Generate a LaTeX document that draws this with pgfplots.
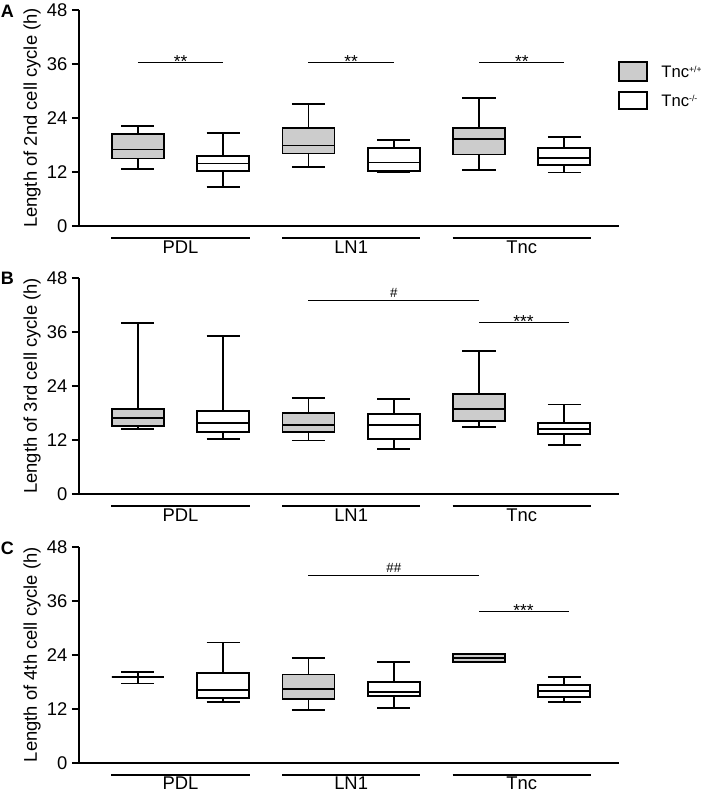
\documentclass[border=0pt]{standalone}
\usepackage{fontspec}
\setmainfont{Liberation Sans}
\usepackage{pgfplots}
\pgfplotsset{compat=1.18}
\usepgfplotslibrary{statistics}

\definecolor{boxgray}{gray}{0.80}

% one box: position, lower whisker, q1, median, q3, upper whisker, style
\newcommand{\cellbox}[7]{%
  \addplot[#7, boxplot prepared={draw position=#1, lower whisker=#2,
    lower quartile=#3, median=#4, upper quartile=#5, upper whisker=#6}]
    coordinates {};}

\newcommand{\lblfont}{\fontsize{13.8}{15}\selectfont}
\newcommand{\groupbars}{%
  \draw[line width=1.5pt] (axis cs:0.69,-2.67) -- (axis cs:2.31,-2.67);
  \draw[line width=1.5pt] (axis cs:2.69,-2.67) -- (axis cs:4.31,-2.67);
  \draw[line width=1.5pt] (axis cs:4.69,-2.67) -- (axis cs:6.31,-2.67);
  \node[font=\lblfont, anchor=base, inner sep=0pt] at (axis cs:1.5,-6.0) {PDL};
  \node[font=\lblfont, anchor=base, inner sep=0pt] at (axis cs:3.5,-6.0) {LN1};
  \node[font=\lblfont, anchor=base, inner sep=0pt] at (axis cs:5.5,-6.0) {Tnc};}

\tikzset{
  star/.style={font=\fontsize{13}{14}\selectfont, anchor=base, inner sep=0pt, yshift=-3.8pt},
  hash/.style={font=\fontsize{10}{11}\selectfont, anchor=base, inner sep=0pt, yshift=2pt},
  sigline/.style={line width=0.75pt},
}
\pgfplotsset{
  panel/.style={
    scale only axis, width=405pt, height=162pt, anchor=south west,
    xmin=0.31, xmax=6.64, ymin=0, ymax=48,
    ytick={0,12,24,36,48}, xtick=\empty,
    axis x line=bottom, axis y line=left,
    axis line style={-, line width=1.5pt},
    tick align=outside, major tick length=5.25pt,
    every tick/.style={black, line width=1.5pt},
    tick label style={font=\lblfont},
    /pgf/number format/assume math mode=true,
    ylabel style={font=\lblfont, at={(axis description cs:-0.087,0.5)}, anchor=center},
    clip=false,
    boxplot/draw direction=y,
    boxplot/box extend=0.61, boxplot/whisker extend=0.39,
    boxplot/every median/.style={line width=1.4pt},
    boxplot/every whisker/.style={line width=1.4pt},
  },
  gbox/.style={draw=black, line width=1.4pt, fill=boxgray},
  wbox/.style={draw=black, line width=1.4pt, fill=white},
}

\begin{document}
\begin{tikzpicture}
\useasboundingbox (0,0) rectangle (525.75pt,-595.5pt);

% ---------------- A ----------------
\begin{axis}[panel, at={(59.25pt,-169.5pt)}, ylabel={Length of 2nd cell cycle (h)}]
  \cellbox{1}{12.7}{15.0}{17.0}{20.4}{22.2}{gbox}
  \cellbox{2}{8.6}{12.3}{13.9}{15.6}{20.7}{wbox}
  \cellbox{3}{13.1}{16.1}{17.9}{21.8}{27.1}{gbox}
  \cellbox{4}{11.9}{12.2}{14.1}{17.3}{19.2}{wbox}
  \cellbox{5}{12.4}{15.9}{19.3}{21.8}{28.4}{gbox}
  \cellbox{6}{11.9}{13.6}{15.1}{17.3}{19.7}{wbox}
  \groupbars
  \draw[sigline] (axis cs:1,36.3) -- (axis cs:2,36.3);
  \draw[sigline] (axis cs:3,36.3) -- (axis cs:4,36.3);
  \draw[sigline] (axis cs:5,36.3) -- (axis cs:6,36.3);
  \node[star] at (axis cs:1.5,36.3) {**};
  \node[star] at (axis cs:3.5,36.3) {**};
  \node[star] at (axis cs:5.5,36.3) {**};
  % legend
  \draw[fill=boxgray, line width=1pt] (rel axis cs:1.0,0.759) rectangle (rel axis cs:1.052,0.671);
  \draw[fill=white, line width=1pt] (rel axis cs:1.0,0.620) rectangle (rel axis cs:1.052,0.542);
  \node[anchor=west, font=\fontsize{12.5}{14}\selectfont, inner sep=0pt] at (rel axis cs:1.078,0.715) {Tnc\raisebox{0.55ex}{\fontsize{6.5}{7}\selectfont +/+}};
  \node[anchor=west, font=\fontsize{12.5}{14}\selectfont, inner sep=0pt] at (rel axis cs:1.078,0.581) {Tnc\raisebox{0.55ex}{\fontsize{6.5}{7}\selectfont -/-}};
\end{axis}
\node[font=\bfseries\fontsize{13.5}{14}\selectfont] at (5.5pt,-8.6pt) {A};

% ---------------- B ----------------
\begin{axis}[panel, at={(59.25pt,-370.5pt)}, ylabel={Length of 3rd cell cycle (h)}]
  \cellbox{1}{14.5}{15.2}{16.9}{18.9}{38.0}{gbox}
  \cellbox{2}{12.3}{13.8}{15.7}{18.5}{35.2}{wbox}
  \cellbox{3}{11.9}{13.7}{15.4}{18.0}{21.3}{gbox}
  \cellbox{4}{10.0}{12.3}{15.4}{17.8}{21.1}{wbox}
  \cellbox{5}{14.9}{16.2}{18.8}{22.3}{31.8}{gbox}
  \cellbox{6}{10.8}{13.4}{14.5}{15.7}{19.9}{wbox}
  \groupbars
  \draw[sigline] (axis cs:3,43.1) -- (axis cs:5,43.1);
  \node[hash] at (axis cs:4,43.1) {\#};
  \draw[sigline] (axis cs:5,38.2) -- (axis cs:6.05,38.2);
  \node[star] at (axis cs:5.52,38.2) {***};
\end{axis}
\node[font=\bfseries\fontsize{13.5}{14}\selectfont] at (5.5pt,-209pt) {B};

% ---------------- C ----------------
\begin{axis}[panel, at={(59.25pt,-572pt)}, ylabel={Length of 4th cell cycle (h)}]
  \cellbox{1}{17.6}{19.0}{19.0}{19.0}{20.2}{gbox}
  \cellbox{2}{13.4}{14.4}{16.1}{19.9}{26.7}{wbox}
  \cellbox{3}{11.8}{14.1}{16.3}{19.6}{23.2}{gbox}
  \cellbox{4}{12.2}{14.8}{15.8}{17.9}{22.4}{wbox}
  \cellbox{5}{22.4}{22.4}{23.3}{24.1}{24.1}{gbox}
  \cellbox{6}{13.4}{14.6}{16.0}{17.3}{19.0}{wbox}
  \groupbars
  \draw[sigline] (axis cs:3,41.6) -- (axis cs:5,41.6);
  \node[hash] at (axis cs:4,41.6) {\#\#};
  \draw[sigline] (axis cs:5,33.5) -- (axis cs:6.05,33.5);
  \node[star] at (axis cs:5.52,33.5) {***};
\end{axis}
\node[font=\bfseries\fontsize{13.5}{14}\selectfont] at (5.5pt,-411pt) {C};
\end{tikzpicture}
\end{document}
